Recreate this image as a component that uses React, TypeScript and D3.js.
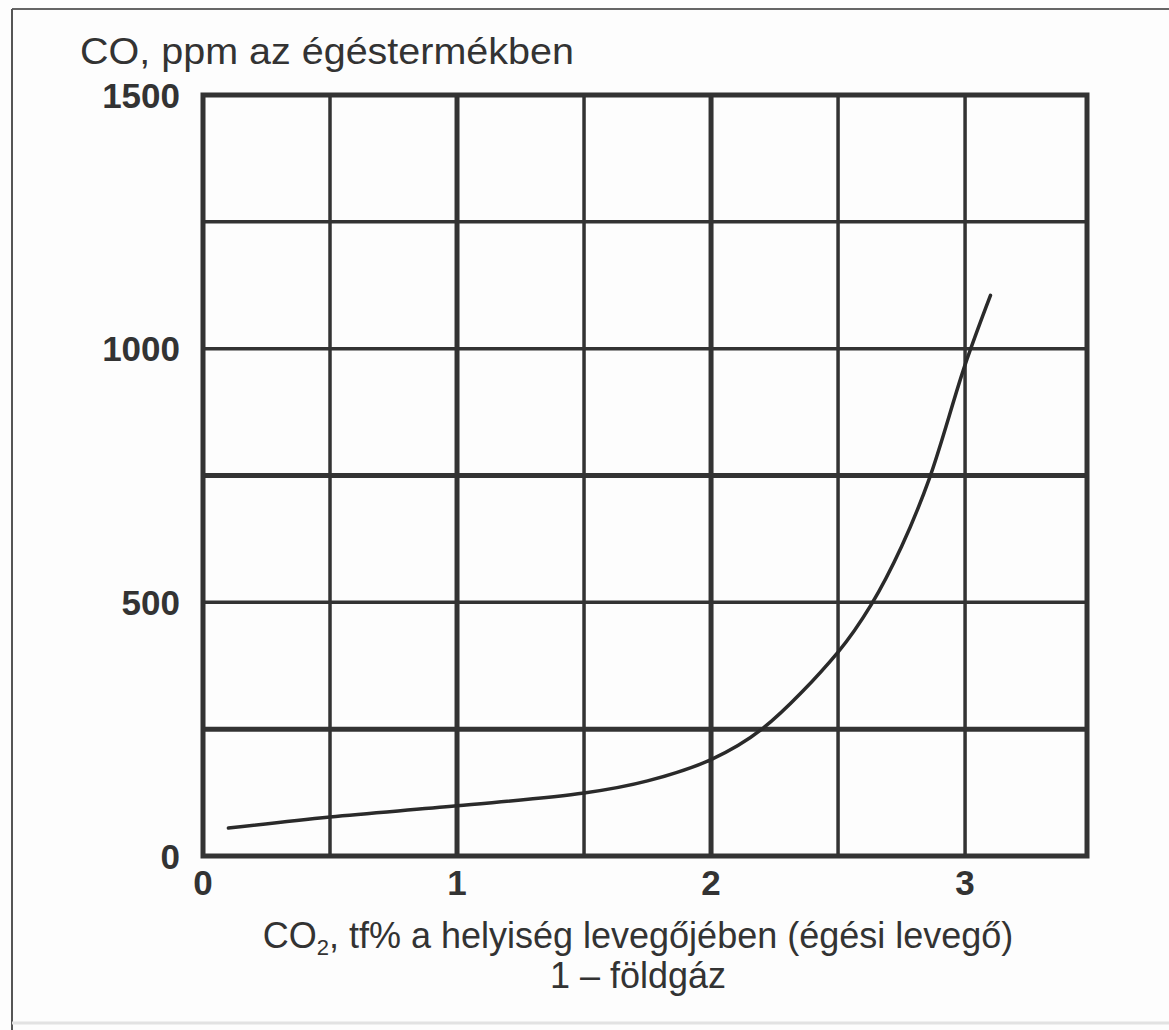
import React from "react";
import * as d3 from "d3";

const co2Values = [0.1, 0.5, 1.0, 1.5, 1.75, 2.0, 2.2, 2.5, 2.63, 2.75, 2.86, 3.0, 3.1];
const coValues = [55, 77, 99, 124, 148, 190, 250, 402, 495, 610, 745, 968, 1105];
const xTickLabels = [0, 1, 2, 3];
const yTickLabels = [0, 500, 1000, 1500];
const xGrid = [0.5, 1, 1.5, 2, 2.5, 3];
const yGrid = [250, 500, 750, 1000, 1250];
const xThick = [1, 2];
const yThick = [250, 750];

const W = 1169;
const H = 1030;
const left = 203;
const right = 1087;
const top = 95;
const bottom = 856;

export default function App() {
  const x = d3.scaleLinear().domain([0, 3.48]).range([left, right]);
  const y = d3.scaleLinear().domain([0, 1500]).range([bottom, top]);
  const pts: [number, number][] = co2Values.map((v, i) => [v, coValues[i]]);
  const line = d3
    .line<[number, number]>()
    .x((d) => x(d[0]))
    .y((d) => y(d[1]))
    .curve(d3.curveCatmullRom.alpha(0.5));
  const ink = "#333";
  const font = "'Liberation Sans', Arial, Helvetica, sans-serif";
  return (
    <svg
      width={W}
      height={H}
      style={{ position: "absolute", left: 0, top: 0, background: "#fff" }}
    >
      <rect x={0} y={0} width={W} height={H} fill="#fdfdfd" />
      {/* outer frame */}
      <line x1={12} y1={9} x2={W} y2={9} stroke="#666" strokeWidth={2} />
      <line x1={12} y1={9} x2={12} y2={H} stroke="#555" strokeWidth={2} />
      <line x1={12} y1={1023} x2={W} y2={1023} stroke="#e2e2e2" strokeWidth={3} />

      {/* grid */}
      {xGrid.map((g) => (
        <line
          key={"xg" + g}
          x1={x(g)}
          x2={x(g)}
          y1={top}
          y2={bottom}
          stroke={ink}
          strokeWidth={xThick.includes(g) ? 5 : 3.5}
        />
      ))}
      {yGrid.map((g) => (
        <line
          key={"yg" + g}
          x1={left}
          x2={right}
          y1={y(g)}
          y2={y(g)}
          stroke={ink}
          strokeWidth={yThick.includes(g) ? 5 : 3.5}
        />
      ))}
      <rect
        x={left}
        y={top}
        width={right - left}
        height={bottom - top}
        fill="none"
        stroke={ink}
        strokeWidth={5}
      />

      {/* curve */}
      <path d={line(pts) || ""} fill="none" stroke="#2a2a2a" strokeWidth={3.5} strokeLinecap="round" />

      {/* y tick labels */}
      {yTickLabels.map((t) => (
        <text
          key={"yt" + t}
          x={180}
          y={y(t)}
          dy="0.36em"
          textAnchor="end"
          fontFamily={font}
          fontWeight="bold"
          fontSize={35}
          fill={ink}
        >
          {t}
        </text>
      ))}
      {/* x tick labels */}
      {xTickLabels.map((t) => (
        <text
          key={"xt" + t}
          x={x(t)}
          y={895}
          textAnchor="middle"
          fontFamily={font}
          fontWeight="bold"
          fontSize={35}
          fill={ink}
        >
          {t}
        </text>
      ))}

      {/* titles */}
      <text x={80} y={64} fontFamily={font} fontSize={37} fill={ink} textLength={494} lengthAdjust="spacingAndGlyphs">
        CO, ppm az égéstermékben
      </text>
      <text x={638} y={948} textAnchor="middle" fontFamily={font} fontSize={36} fill={ink}>
        CO<tspan fontSize={22} dy={7}>2</tspan>
        <tspan dy={-7}>, tf% a helyiség levegőjében (égési levegő)</tspan>
      </text>
      <text x={638} y={988} textAnchor="middle" fontFamily={font} fontSize={36} fill={ink}>
        1 – földgáz
      </text>
    </svg>
  );
}
